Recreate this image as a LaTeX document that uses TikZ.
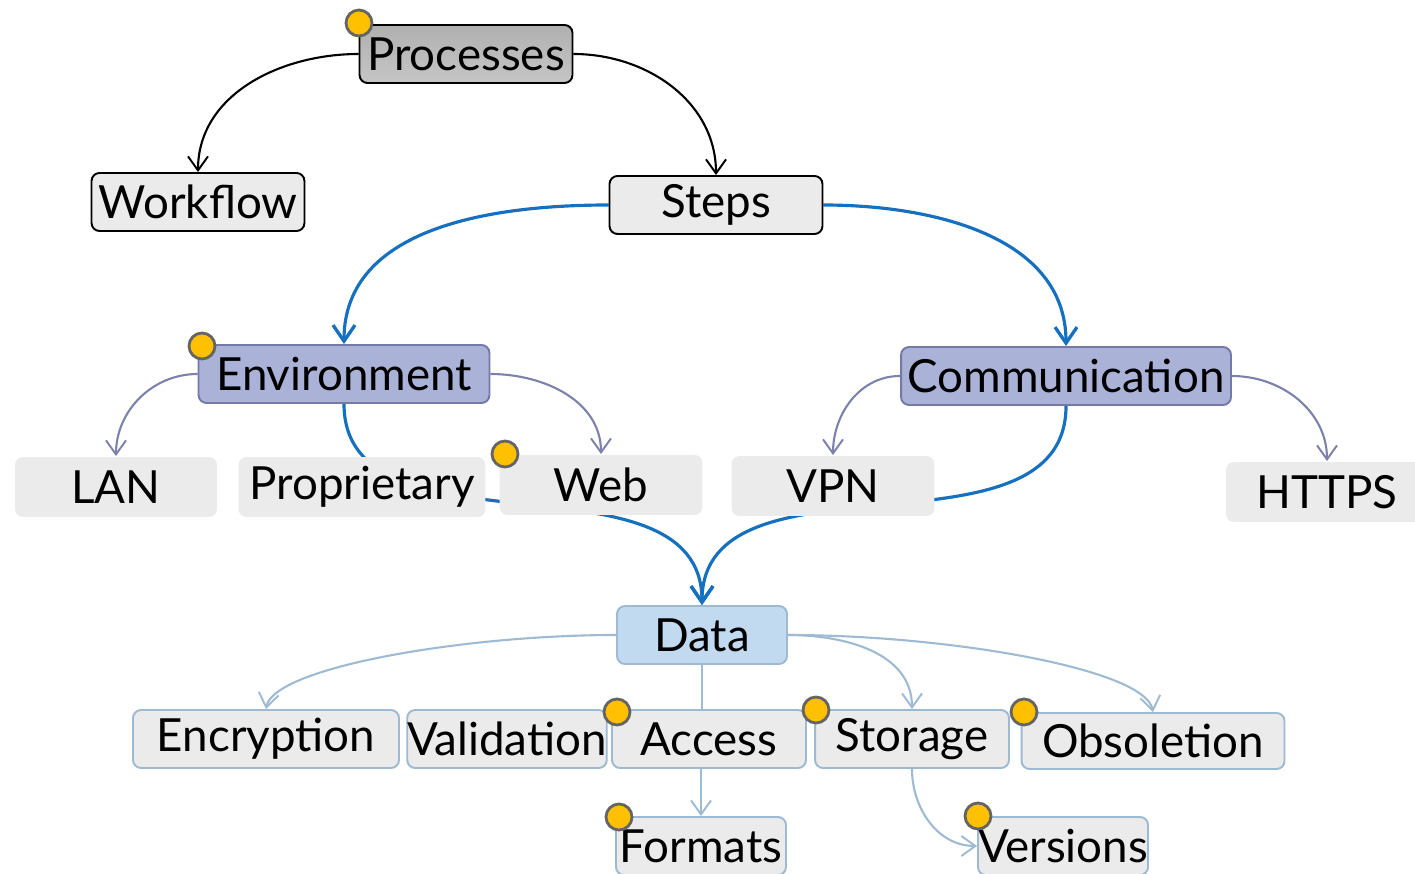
\documentclass[tikz,border=0pt]{standalone}
\usepackage{fontspec}
\setmainfont{Lato}
\usetikzlibrary{arrows.meta,backgrounds}

\definecolor{dotfill}{HTML}{FFC000}
\definecolor{dotline}{HTML}{646464}
\definecolor{envfill}{HTML}{AAB2D8}
\definecolor{envline}{HTML}{7479A8}
\definecolor{datafill}{HTML}{C2DAF0}
\definecolor{dataline}{HTML}{9DBAD2}
\definecolor{leaffill}{HTML}{EBEBEB}
\definecolor{flowblue}{HTML}{1570C0}
\definecolor{lavline}{HTML}{7C82AB}
\definecolor{paleline}{HTML}{9FBBD3}

\tikzset{
  box/.style={shape=rectangle, rounded corners=0.16cm, line width=1.1pt, inner sep=0pt,
    minimum height=1.16cm, font=\fontsize{26}{30}\selectfont},
  topbox/.style={box, draw=black, top color=gray!62, bottom color=gray!45},
  stepbox/.style={box, draw=black, fill=leaffill},
  envbox/.style={box, draw=envline, fill=envfill},
  leafbox/.style={box, draw=none, fill=leaffill, minimum height=1.2cm},
  databox/.style={box, draw=dataline, fill=datafill},
  subbox/.style={box, draw=dataline, fill=leaffill},
  flag/.style={shape=circle, fill=dotfill, draw=dotline, line width=1.6pt, minimum size=0.52cm, inner sep=0pt},
  tip/.style={-{Straight Barb[length=0.28cm,width=0.4cm,line width=1.1pt]}},
  blacklink/.style={tip, draw=black, line width=1.2pt},
  bluelink/.style={-{Straight Barb[length=0.32cm,width=0.44cm,line width=1.9pt]}, draw=flowblue, line width=1.8pt},
  lavlink/.style={tip, draw=lavline, line width=1.2pt},
  palelink/.style={tip, draw=paleline, line width=1.2pt}
}

\begin{document}
\begin{tikzpicture}[x=0.02cm,y=-0.02cm]
%%%%%%%%%%%%%%%%%%%%%%%%%%%%%%%%%%%%%%%%%%% frame
\useasboundingbox (0,0) rectangle (1415,874);

%%%%%%%%%%%%%%%%%%%%%%%%%%%%%%%%%%%%%%%%%%% elements
\node[topbox, minimum width=4.26cm](processes) at (466,54){Processes};
\node[stepbox, minimum width=4.26cm](workflow) at (198,202){Workflow};
\node[stepbox, minimum width=4.26cm](steps) at (716,205){Steps};

\node[envbox, minimum width=5.82cm](environment) at (344,374){Environment};
\node[envbox, minimum width=6.6cm](communication) at (1066,376){Communication};

\node[leafbox, minimum width=4.04cm](lan) at (116,487){LAN};
\node[leafbox, minimum width=4.94cm](proprietary) at (362,487){Proprietary};
\node[leafbox, minimum width=4.06cm](web) at (601,485){Web};
\node[leafbox, minimum width=4.06cm](vpn) at (833,486){VPN};
\node[leafbox, minimum width=4.04cm](https) at (1327,492){HTTPS};

\node[databox, minimum width=3.4cm](data) at (702,635){Data};
\node[subbox, minimum width=5.32cm](encryption) at (266,739){Encryption};
\node[subbox, minimum width=3.88cm](validation) at (507,739){Validation};
\node[subbox, minimum width=3.88cm](access) at (709,739){Access};
\node[subbox, minimum width=3.88cm](storage) at (912,739){Storage};
\node[subbox, minimum width=5.26cm, minimum height=1.12cm](obsoletion) at (1153,741){Obsoletion};
\node[subbox, minimum width=3.4cm](formats) at (701,846){Formats};
\node[subbox, minimum width=3.4cm](versions) at (1063,846){Versions};

%%%%% connectors (behind the boxes)
\begin{pgfonlayer}{background}
\draw[blacklink] (processes.west) to[out=180,in=90] (workflow.north);
\draw[blacklink] (processes.east) to[out=0,in=90] (steps.north);

\draw[bluelink] (steps.west) to[out=180,in=90] (environment.north);
\draw[bluelink] (steps.east) to[out=0,in=90] (communication.north);

\draw[lavlink] (environment.west) to[out=180,in=90] (lan.north);
\draw[lavlink] (environment.east) to[out=0,in=90] (web.north);
\draw[lavlink] (communication.west) to[out=180,in=90] (vpn.north);
\draw[lavlink] (communication.east) to[out=0,in=90] (https.north);

\draw[bluelink] (environment.south) to[out=-90,in=90] (data.north);
\draw[bluelink] (communication.south) to[out=-90,in=90] (data.north);

\draw[palelink] (data.west) to[out=180,in=80,out looseness=1.1,in looseness=0.3] (encryption.north);
\draw[draw=paleline, line width=1.2pt] (data.south) -- (data.south |- access.north);
\draw[palelink] (data.east) to[out=0,in=90] (storage.north);
\draw[palelink] (data.east) to[out=0,in=100,out looseness=1.1,in looseness=0.3] (obsoletion.north);
\draw[palelink] (access.south -| formats.north) -- (formats.north);
\draw[palelink] (storage.south) to[out=-90,in=180] (versions.west);
\end{pgfonlayer}

%%%%% flags
\node[flag](fprocesses) at (359,23){};
\node[flag](fenvironment) at (202,346){};
\node[flag](fweb) at (505,454){};
\node[flag](faccess) at (617,712){};
\node[flag](fstorage) at (816,710){};
\node[flag](fobsoletion) at (1024,712){};
\node[flag](fformats) at (619,817){};
\node[flag](fversions) at (978,816){};
\end{tikzpicture}
\end{document}
